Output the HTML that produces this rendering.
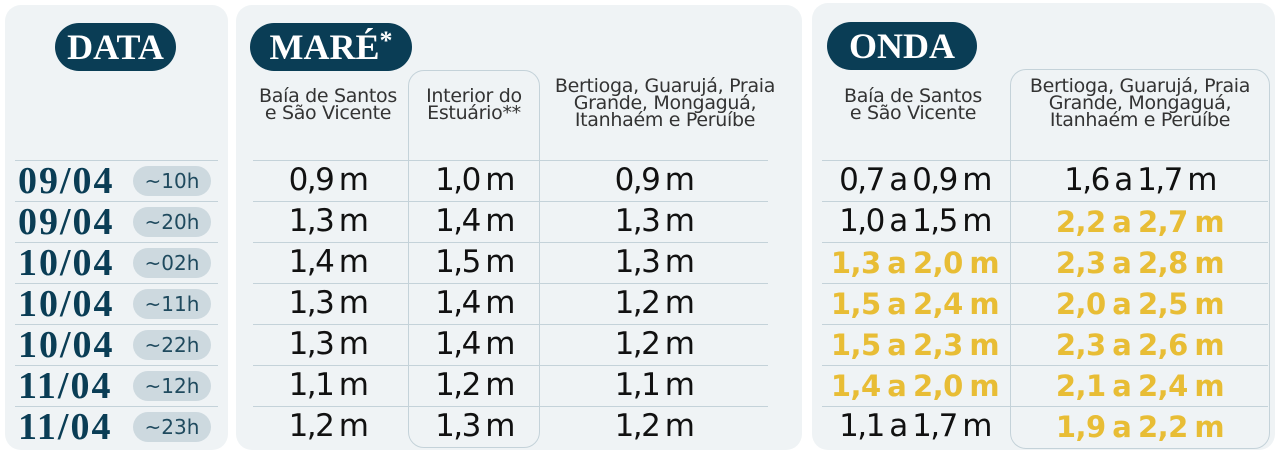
<!DOCTYPE html><html><head><meta charset="utf-8"><style>
body{margin:0;width:1280px;height:455px;background:#fff;position:relative;overflow:hidden;font-family:"DejaVu Sans","Liberation Sans",sans-serif}
.p{position:absolute;background:#eff3f5;border-radius:16px}
.pill{position:absolute;background:#0a3d55;color:#fff;border-radius:25px;font-family:"Liberation Serif",serif;font-weight:bold;font-size:36px;text-align:center;line-height:48px;height:48px}
.h{position:absolute;font-size:19px;color:#333;line-height:17px;text-align:center;letter-spacing:-0.3px}
.ln{position:absolute;height:1px;background:#c4d2d9}
.box{position:absolute;border:1.5px solid #c4d2d9;border-radius:16px}
.d{position:absolute;left:18px;font-family:"Liberation Serif",serif;font-weight:bold;font-size:38px;color:#0a3d55;letter-spacing:2px}
.t{position:absolute;left:133px;width:78px;height:30px;background:#cdd9df;border-radius:15px;color:#1f4a5e;font-size:20px;text-align:center;line-height:30px}
.v{position:absolute;font-size:31px;font-weight:normal;color:#111;text-align:center;letter-spacing:-1.5px;word-spacing:-3px}
.y{color:#e8bd35;font-weight:bold;letter-spacing:-0.5px;font-size:29px}
</style></head><body>
<div class="p" style="left:5px;top:5px;width:223px;height:445px"></div>
<div class="p" style="left:236px;top:5px;width:566px;height:445px"></div>
<div class="p" style="left:812px;top:3px;width:463px;height:447px"></div>
<div class="pill" style="left:55px;top:23px;width:121px">DATA</div>
<div class="pill" style="left:250px;top:23px;width:162px">MARÉ<span style="font-size:26px;vertical-align:top;line-height:36px">*</span></div>
<div class="pill" style="left:827px;top:22px;width:150px">ONDA</div>
<div class="box" style="left:408px;top:70px;width:130px;height:376px"></div>
<div class="box" style="left:1010px;top:69px;width:258px;height:378px"></div>
<div class="h" style="left:250px;top:88px;width:156px">Baía de Santos<br>e São Vicente</div>
<div class="h" style="left:408px;top:88px;width:132px">Interior do<br>Estuário**</div>
<div class="h" style="left:530px;top:78px;width:270px">Bertioga, Guarujá, Praia<br>Grande, Mongaguá,<br>Itanhaém e Peruíbe</div>
<div class="h" style="left:818px;top:88px;width:190px">Baía de Santos<br>e São Vicente</div>
<div class="h" style="left:1005px;top:78px;width:270px">Bertioga, Guarujá, Praia<br>Grande, Mongaguá,<br>Itanhaém e Peruíbe</div>
<div id="g"></div>
<script>
var rows=[["09/04","~10h","0,9 m","1,0 m","0,9 m","0,7 a 0,9 m",0,"1,6 a 1,7 m",0],
["09/04","~20h","1,3 m","1,4 m","1,3 m","1,0 a 1,5 m",0,"2,2 a 2,7 m",1],
["10/04","~02h","1,4 m","1,5 m","1,3 m","1,3 a 2,0 m",1,"2,3 a 2,8 m",1],
["10/04","~11h","1,3 m","1,4 m","1,2 m","1,5 a 2,4 m",1,"2,0 a 2,5 m",1],
["10/04","~22h","1,3 m","1,4 m","1,2 m","1,5 a 2,3 m",1,"2,3 a 2,6 m",1],
["11/04","~12h","1,1 m","1,2 m","1,1 m","1,4 a 2,0 m",1,"2,1 a 2,4 m",1],
["11/04","~23h","1,2 m","1,3 m","1,2 m","1,1 a 1,7 m",0,"1,9 a 2,2 m",1]];
var tops=[160,201,242,283,324,365,406],h="";
for(var i=0;i<7;i++){var t=tops[i],r=rows[i];
h+='<div class="ln" style="left:15px;top:'+t+'px;width:203px"></div>';
h+='<div class="ln" style="left:253px;top:'+t+'px;width:515px"></div>';
h+='<div class="ln" style="left:822px;top:'+t+'px;width:446px"></div>';
h+='<div class="d" style="top:'+(t-1)+'px">'+r[0]+'</div>';
h+='<div class="t" style="top:'+(t+6)+'px">'+r[1]+'</div>';
var vt=t+2;
h+='<div class="v" style="left:253px;width:150px;top:'+vt+'px">'+r[2]+'</div>';
h+='<div class="v" style="left:408px;width:133px;top:'+vt+'px">'+r[3]+'</div>';
h+='<div class="v" style="left:540px;width:228px;top:'+vt+'px">'+r[4]+'</div>';
h+='<div class="v'+(r[6]?' y':'')+'" style="left:822px;width:186px;top:'+(vt+(r[6]?2:0))+'px">'+r[5]+'</div>';
h+='<div class="v'+(r[8]?' y':'')+'" style="left:1012px;width:256px;top:'+(vt+(r[8]?2:0))+'px">'+r[7]+'</div>';}
document.getElementById("g").innerHTML=h;
</script>
</body></html>
